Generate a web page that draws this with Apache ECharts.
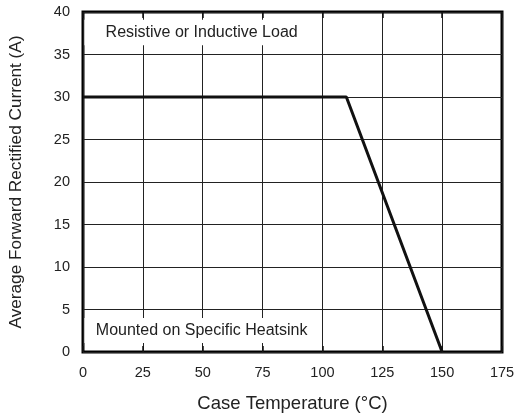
<!DOCTYPE html>
<html><head><meta charset="utf-8">
<script src="https://cdn.jsdelivr.net/npm/echarts@6/dist/echarts.min.js"></script>
<style>html,body{margin:0;padding:0;background:#fff}#c{width:517px;height:416px}</style>
</head><body><div id="c"></div>
<script>
var xTicks = [0, 25, 50, 75, 100, 125, 150, 175];
var yTicks = [0, 5, 10, 15, 20, 25, 30, 35, 40];
var curveX = [0, 110, 150];
var curveY = [30, 30, 0];
var noteTop = 'Resistive or Inductive Load';
var noteBottom = 'Mounted on Specific Heatsink';
var xName = 'Case Temperature (°C)';
var yName = 'Average Forward Rectified Current (A)';

var data = curveX.map(function (x, i) { return [x, curveY[i]]; });
var font = 'Liberation Sans, Arial, sans-serif';
var chart = echarts.init(document.getElementById('c'));
var tickAxis = function (pos) {
  return {
    type: 'value', position: pos, min: 0, max: 175, interval: 25, z: 5,
    axisLine: { show: false }, axisLabel: { show: false }, splitLine: { show: false },
    axisTick: { show: true, inside: true, length: 6, lineStyle: { color: '#111', width: 1.5 } }
  };
};
chart.setOption({
  animation: false,
  grid: { left: 83, right: 15, top: 12, bottom: 64, show: true, borderColor: '#000', borderWidth: 3,
          outerBoundsMode: 'none', containLabel: false },
  xAxis: [{
    type: 'value', min: 0, max: 175, interval: 25,
    name: xName, nameLocation: 'middle', nameGap: 42,
    nameTextStyle: { fontFamily: font, fontSize: 18.5, color: '#222' },
    axisLine: { show: false }, axisTick: { show: false },
    axisLabel: { fontFamily: font, fontSize: 14.5, color: '#222', margin: 13,
      formatter: function (v) { return xTicks.indexOf(v) >= 0 ? String(v) : ''; } },
    splitLine: { show: true, lineStyle: { color: '#222', width: 1 } }
  }, tickAxis('bottom'), tickAxis('top')],
  yAxis: {
    type: 'value', min: 0, max: 40, interval: 5,
    name: yName, nameLocation: 'middle', nameGap: 58,
    nameTextStyle: { fontFamily: font, fontSize: 17.2, color: '#222' },
    axisLine: { show: false }, axisTick: { show: false },
    axisLabel: { fontFamily: font, fontSize: 14.5, color: '#222', margin: 13,
      formatter: function (v) { return yTicks.indexOf(v) >= 0 ? String(v) : ''; } },
    splitLine: { show: true, lineStyle: { color: '#222', width: 1 } }
  },
  series: [{
    type: 'line', data: data, symbol: 'none', z: 4,
    lineStyle: { color: '#111', width: 3 },
    markArea: {
      silent: true,
      itemStyle: { color: '#fff' },
      label: { show: true, position: 'inside', fontFamily: font, fontSize: 16, color: '#222' },
      data: [
        [{ name: noteTop, coord: [0.6, 39.1] }, { coord: [98.5, 36.1] }],
        [{ name: noteBottom, coord: [0.6, 4.0] }, { coord: [98.5, 1.05] }]
      ]
    }
  }]
});
</script></body></html>
